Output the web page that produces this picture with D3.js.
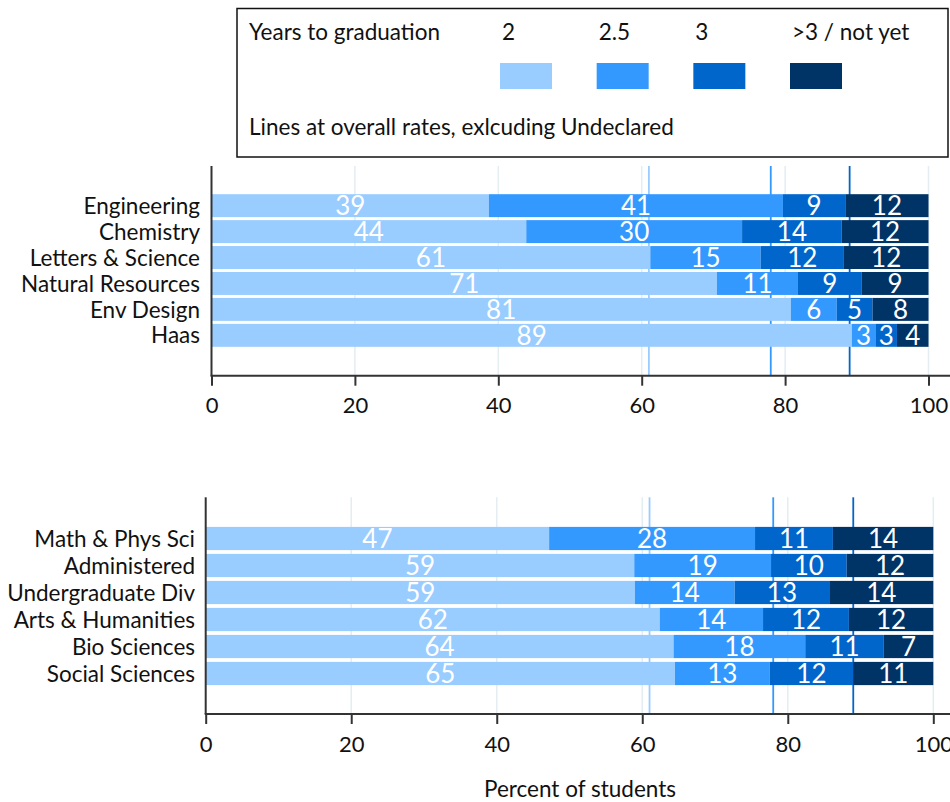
<!DOCTYPE html>
<html>
<head>
<meta charset="utf-8">
<script src="https://cdn.jsdelivr.net/npm/d3@7"></script>
<style>
  html, body { margin: 0; padding: 0; background: #fff; }
  svg { display: block; font-family: Lato, "Open Sans", sans-serif; }
</style>
</head>
<body>
<svg id="chart" width="950" height="802"></svg>
<script>
// ---- Data ----
const seriesNames = ["2", "2.5", "3", ">3 / not yet"];
const colors = ["#99ccff", "#3399ff", "#0066cc", "#003366"];

const topCategories = ["Engineering", "Chemistry", "Letters & Science", "Natural Resources", "Env Design", "Haas"];
const top2yr   = [38.7, 43.9, 61.2, 70.5, 80.8, 89.3];
const top25yr  = [41.0, 30.1, 15.4, 11.3, 6.4, 3.3];
const top3yr   = [8.7, 13.9, 11.6, 8.9, 5.0, 3.0];
const topMore  = [11.6, 12.1, 11.8, 9.3, 7.8, 4.4];

const botCategories = ["Math & Phys Sci", "Administered", "Undergraduate Div", "Arts & Humanities", "Bio Sciences", "Social Sciences"];
const bot2yr   = [47.2, 58.9, 59.0, 62.4, 64.3, 64.5];
const bot25yr  = [28.3, 18.8, 13.7, 14.2, 18.1, 13.0];
const bot3yr   = [10.7, 10.4, 13.0, 11.8, 10.8, 11.5];
const botMore  = [13.8, 11.9, 14.3, 11.6, 6.8, 11.0];

// Overall cumulative rates (reference lines), excluding Undeclared
const overallRates = [61, 78, 89];
const xTicks = [0, 20, 40, 60, 80, 100];

const legendTitle = "Years to graduation";
const legendNote = "Lines at overall rates, exlcuding Undeclared";
const xAxisTitle = "Percent of students";

// ---- Drawing ----
const svg = d3.select("#chart");
const TEXT = "#111";
const AXIS = "#333";
const FS = 22.5;

function panel(cfg) {
  const { cats, vals, xr, yTop, yBot, band, labelX } = cfg;
  const g = svg.append("g");
  const x = d3.scaleLinear().domain([0, 100]).range(xr);
  const y = d3.scaleBand().domain(cats).range(band).paddingInner(cfg.pi).paddingOuter(cfg.pi / 2);

  const rows = cats.map((c, i) => {
    let acc = 0;
    return vals.map((arr, k) => {
      const v = arr[i];
      const seg = { cat: c, k, x0: acc, x1: acc + v, v };
      acc += v;
      return seg;
    });
  });
  // normalise so that each bar ends at 100
  rows.forEach(r => {
    const tot = r[r.length - 1].x1;
    r.forEach(s => { s.x0 = s.x0 * 100 / tot; s.x1 = s.x1 * 100 / tot; });
  });

  // gridlines
  g.append("g").selectAll("line").data(xTicks.filter(t => t > 0)).join("line")
    .attr("x1", d => x(d)).attr("x2", d => x(d))
    .attr("y1", yTop).attr("y2", yBot)
    .attr("stroke", "#e3edf2").attr("stroke-width", 1.5);

  // reference lines
  g.append("g").selectAll("line").data(overallRates).join("line")
    .attr("x1", d => x(d)).attr("x2", d => x(d))
    .attr("y1", yTop).attr("y2", yBot)
    .attr("stroke", (d, i) => colors[i]).attr("stroke-width", 1.8);

  // bars
  const segs = rows.flat();
  g.append("g").selectAll("rect").data(segs).join("rect")
    .attr("x", d => x(d.x0))
    .attr("width", d => x(d.x1) - x(d.x0))
    .attr("y", d => y(d.cat))
    .attr("height", y.bandwidth())
    .attr("fill", d => colors[d.k]);

  // bar labels
  g.append("g").selectAll("text").data(segs).join("text")
    .attr("x", d => (x(d.x0) + x(d.x1)) / 2)
    .attr("y", d => y(d.cat) + y.bandwidth() / 2)
    .attr("dy", "0.36em")
    .attr("text-anchor", "middle")
    .attr("fill", "#fff")
    .attr("font-size", 26)
    .text(d => Math.round(d.v));

  // category labels
  g.append("g").selectAll("text").data(cats).join("text")
    .attr("x", labelX)
    .attr("y", d => y(d) + y.bandwidth() / 2)
    .attr("dy", "0.36em")
    .attr("text-anchor", "end")
    .attr("fill", TEXT)
    .attr("font-size", FS)
    .text(d => d);

  // axes
  g.append("line").attr("x1", xr[0]).attr("x2", xr[0]).attr("y1", yTop).attr("y2", yBot)
    .attr("stroke", AXIS).attr("stroke-width", 2);
  const xAxis = d3.axisBottom(x).tickValues(xTicks).tickSize(10).tickPadding(12).tickFormat(d3.format("d"));
  const ax = g.append("g").attr("transform", `translate(0,${yBot})`).call(xAxis);
  ax.select(".domain").remove();
  ax.append("line").attr("x1", xr[0] - 1).attr("x2", 950).attr("stroke", AXIS).attr("stroke-width", 2);
  ax.selectAll(".tick line").attr("stroke", AXIS).attr("stroke-width", 2);
  ax.selectAll(".tick text").attr("fill", TEXT).attr("font-size", 22).attr("font-family", "Lato, sans-serif");
}

panel({
  cats: topCategories, vals: [top2yr, top25yr, top3yr, topMore],
  xr: [211.5, 928.5], yTop: 166, yBot: 375.7, band: [192.7, 348.3], pi: 0.115, labelX: 200
});
panel({
  cats: botCategories, vals: [bot2yr, bot25yr, bot3yr, botMore],
  xr: [205.7, 933.3], yTop: 497.3, yBot: 714, band: [525, 687], pi: 0.14, labelX: 195
});

// legend
const lg = svg.append("g");
lg.append("rect").attr("x", 237).attr("y", 8.5).attr("width", 711).attr("height", 148.5)
  .attr("fill", "#fff").attr("stroke", "#111").attr("stroke-width", 1.5);
lg.append("text").attr("x", 249).attr("y", 40).attr("font-size", FS).attr("fill", TEXT).text(legendTitle);
const legX = d3.scalePoint().domain(seriesNames).range([500, 790]);
lg.selectAll("text.ser").data(seriesNames).join("text").attr("class", "ser")
  .attr("x", d => legX(d) + 2).attr("y", 40).attr("font-size", FS).attr("fill", TEXT).text(d => d);
lg.selectAll("rect.sw").data(seriesNames).join("rect").attr("class", "sw")
  .attr("x", d => legX(d)).attr("y", 63).attr("width", 52).attr("height", 26)
  .attr("fill", (d, i) => colors[i]);
lg.append("text").attr("x", 249).attr("y", 135).attr("font-size", FS).attr("fill", TEXT).text(legendNote);

// x title
svg.append("text").attr("x", 580).attr("y", 797).attr("text-anchor", "middle")
  .attr("font-size", FS).attr("fill", TEXT).text(xAxisTitle);
</script>
</body>
</html>
